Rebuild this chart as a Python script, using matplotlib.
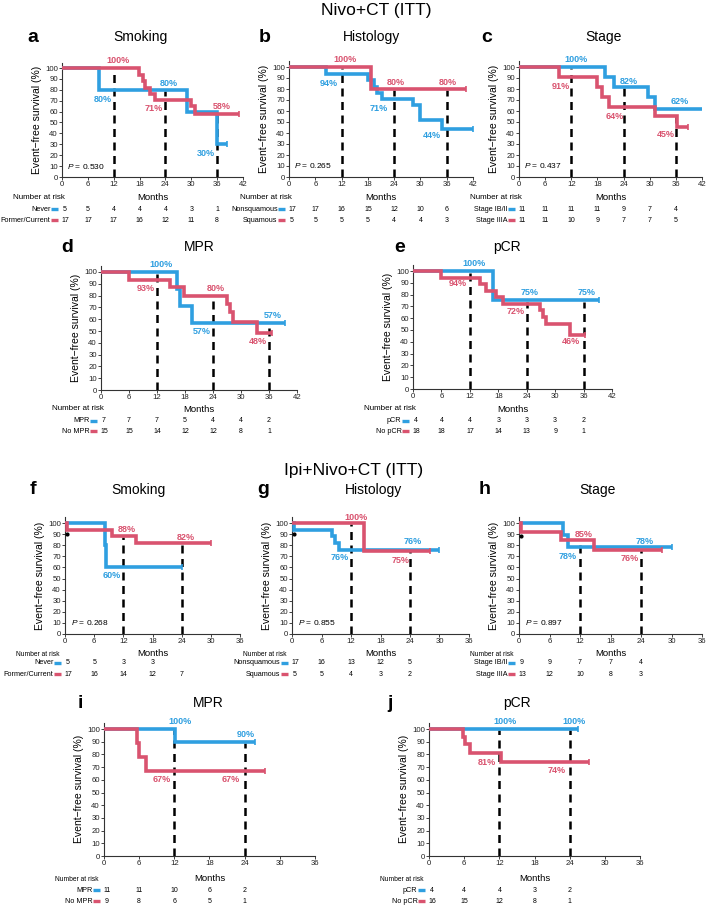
import matplotlib
matplotlib.use("Agg")
import matplotlib.pyplot as plt
from matplotlib.lines import Line2D
import numpy as np

plt.rcParams['font.family'] = ['Liberation Sans', 'DejaVu Sans']
plt.rcParams['mathtext.fontset'] = 'custom'
plt.rcParams['mathtext.it'] = 'Liberation Sans:italic'
plt.rcParams['mathtext.rm'] = 'Liberation Sans'

BLUE = '#2f9fe0'
RED = '#d9536f'

# ---------------- data ----------------
# Panel a: Smoking (Nivo+CT)
a_never_t = [0, 8.5, 29, 36, 38.3]
a_never_s = [100, 80, 60, 30, 30]
a_former_t = [0, 17.8, 18.7, 19.3, 20.4, 21.6, 30, 30.8, 41]
a_former_s = [100, 94, 88, 82, 76, 71, 65, 58, 58]
a_risk_never = [5, 5, 4, 4, 4, 3, 1]
a_risk_former = [17, 17, 17, 16, 12, 11, 8]

# Panel b: Histology
b_nonsq_t = [0, 8.4, 18, 19.4, 20.2, 21.3, 28.3, 30, 35, 42]
b_nonsq_s = [100, 94, 88, 82, 76, 71, 65, 52, 44, 44]
b_sq_t = [0, 18.8, 40.3]
b_sq_s = [100, 80, 80]
b_risk_nonsq = [17, 17, 16, 15, 12, 10, 6]
b_risk_sq = [5, 5, 5, 5, 4, 4, 3]

# Panel c: Stage
c_ib_t = [0, 19.8, 21.9, 29.5, 31.2, 42.5]
c_ib_s = [100, 91, 82, 73, 62, 62]
c_iiia_t = [0, 9.1, 17.8, 19, 20.6, 31.2, 36.2, 38.7]
c_iiia_s = [100, 91, 82, 73, 64, 55, 45, 45]
c_risk_ib = [11, 11, 11, 11, 9, 7, 4]
c_risk_iiia = [11, 11, 10, 9, 7, 7, 5]

# Panel d: MPR
d_mpr_t = [0, 16.3, 17, 19.6, 39.4]
d_mpr_s = [100, 86, 71, 57, 57]
d_nompr_t = [0, 5.9, 14.7, 17.7, 26.9, 27.7, 28.3, 33.4, 36.6]
d_nompr_s = [100, 93, 87, 80, 73, 66, 58, 48, 48]
d_risk_mpr = [7, 7, 7, 5, 4, 4, 2]
d_risk_nompr = [15, 15, 14, 12, 12, 8, 1]

# Panel e: pCR
e_pcr_t = [0, 16.8, 39.2]
e_pcr_s = [100, 75, 75]
e_nopcr_t = [0, 6, 14.1, 15.5, 17.6, 19, 26.7, 27.5, 28.1, 33.2, 36.4]
e_nopcr_s = [100, 94, 89, 83, 78, 72, 67, 61, 55, 46, 46]
e_risk_pcr = [4, 4, 4, 3, 3, 3, 2]
e_risk_nopcr = [18, 18, 17, 14, 13, 9, 1]

# Panel f: Smoking (Ipi+Nivo+CT)
f_never_t = [0, 8.3, 8.5, 24]
f_never_s = [100, 80, 60, 60]
f_former_t = [0, 0.5, 9.7, 14.7, 30]
f_former_s = [100, 94, 88, 82, 82]
f_risk_never = [5, 5, 3, 3, None]
f_risk_former = [17, 16, 14, 12, 7]

# Panel g: Histology
g_nonsq_t = [0, 0.5, 8.2, 8.8, 9.6, 30]
g_nonsq_s = [100, 94, 88, 82, 76, 76]
g_sq_t = [0, 14.7, 28]
g_sq_s = [100, 75, 75]
g_risk_nonsq = [17, 16, 13, 12, 5]
g_risk_sq = [5, 5, 4, 3, 2]

# Panel h: Stage
h_ib_t = [0, 8.6, 9.6, 30]
h_ib_s = [100, 89, 78, 78]
h_iiia_t = [0, 0.4, 8.2, 14.8, 28.2]
h_iiia_s = [100, 92, 85, 76, 76]
h_risk_ib = [9, 9, 7, 7, 4]
h_risk_iiia = [13, 12, 10, 8, 3]

# Panel i: MPR
i_mpr_t = [0, 12.1, 25.7]
i_mpr_s = [100, 90, 90]
i_nompr_t = [0, 5.7, 6, 7.1, 27.5]
i_nompr_s = [100, 89, 78, 67, 67]
i_risk_mpr = [11, 11, 10, 6, 2]
i_risk_nompr = [9, 8, 6, 5, 1]

# Panel j: pCR
j_pcr_t = [0, 25.5]
j_pcr_s = [100, 100]
j_nopcr_t = [0, 5.8, 6.1, 7, 12.2, 27.3]
j_nopcr_s = [100, 94, 88, 81, 74, 74]
j_risk_pcr = [4, 4, 4, 3, 2]
j_risk_nopcr = [16, 15, 12, 8, 1]

# ---------------- figure ----------------
W, H = 707, 905
fig = plt.figure(figsize=(W / 100, H / 100), dpi=100)


def fx(x):
    return x / W


def fy(y):
    return 1 - y / H


def value_at(t, s, x):
    v = s[0]
    for ti, si in zip(t, s):
        if ti <= x:
            v = si
    return v


def panel(box, xmax, curves, dash_times, pct, pval, risk, title, letter,
          title_xy, letter_xy, rows_y, nar_y, months_y, tick_fs=5.6,
          nar_fs=5.8, risk_fs=5.0, dots=None):
    x0, x1, ytop, ybot = box
    unit = (ybot - ytop) / 100.0
    top_px = ytop - 5 * unit
    ax = fig.add_axes([fx(x0), fy(ybot), (x1 - x0) / W, (ybot - top_px) / H])
    ax.set_xlim(0, xmax)
    ax.set_ylim(0, 105)
    for sp in ['top', 'right']:
        ax.spines[sp].set_visible(False)
    for sp in ['left', 'bottom']:
        ax.spines[sp].set_color('#333333')
        ax.spines[sp].set_linewidth(0.8)
    ax.spines['left'].set_bounds(0, 105)
    ax.set_xticks(np.arange(0, xmax + 1, 6))
    ax.set_yticks(np.arange(0, 101, 10))
    ax.tick_params(length=2, width=0.6, pad=1, labelsize=tick_fs, colors='#222222')
    ax.set_ylabel('Event\u2212free survival (%)', fontsize=7.5, labelpad=2)
    ax.patch.set_alpha(0)

    # dashed reference lines
    for dt in dash_times:
        top = max(value_at(t, s, dt) for t, s, c in curves)
        ax.vlines(dt, 0, top - 1, colors='black', linestyles=(0, (3.2, 2.2)),
                  lw=1.8, zorder=1)
    # curves
    for t, s, c in curves:
        ax.step(t, s, where='post', color=c, lw=2.6, zorder=3,
                solid_capstyle='butt', solid_joinstyle='miter')
        ax.plot([t[-1]], [s[-1]], marker='|', color=c, ms=4, mew=1.2, zorder=3)
    if dots:
        for dx, dy in dots:
            ax.plot([dx], [dy], marker='o', color='black', ms=2, zorder=4)
    for txt, c, xx, yy in pct:
        ax.text(xx, yy, txt, color=c, fontsize=6.5, fontweight='bold',
                ha='center', va='center', zorder=5)
    if pval:
        ax.text(1.2, 10, r'$P$ = ' + pval, fontsize=6, ha='left', va='center')

    # title and letter
    fig.text(fx(title_xy[0]), fy(title_xy[1]), title, fontsize=10,
             ha='center', va='center')
    fig.text(fx(letter_xy[0]), fy(letter_xy[1]), letter, fontsize=14,
             fontweight='bold', ha='center', va='center')
    # months
    fig.text(fx((x0 + x1) / 2), fy(months_y), 'Months', fontsize=6.8,
             ha='center', va='center')
    # risk table
    fig.text(fx(x0 - 49), fy(nar_y), 'Number at risk', fontsize=nar_fs,
             ha='left', va='center')
    ticks = np.arange(0, xmax + 1, 6)
    for (lab, c, counts), yy in zip(risk, rows_y):
        fig.text(fx(x0 - 11.5), fy(yy), lab, fontsize=5.2, ha='right', va='center')
        fig.add_artist(Line2D([fx(x0 - 11), fx(x0 - 4)], [fy(yy), fy(yy)],
                              color=c, lw=2.4, solid_capstyle='butt'))
        for tk, n in zip(ticks, counts):
            if n is None:
                continue
            xp = x0 + tk / xmax * (x1 - x0) + (3 if tk == 0 else 0)
            fig.text(fx(xp), fy(yy), str(n), fontsize=risk_fs, ha='center',
                     va='center')
    return ax


# super titles
fig.text(fx(376), fy(11), 'Nivo+CT (ITT)', fontsize=12.5, ha='center', va='center')
fig.text(fx(354), fy(470), 'Ipi+Nivo+CT (ITT)', fontsize=12.5, ha='center', va='center')

# Row 1
panel((62, 243, 68, 177), 42,
      [(a_never_t, a_never_s, BLUE), (a_former_t, a_former_s, RED)],
      [12, 24, 36],
      [('80%', BLUE, 9.4, 71), ('80%', BLUE, 24.8, 86), ('100%', RED, 13, 107),
       ('71%', RED, 21.4, 63), ('58%', RED, 37, 65), ('30%', BLUE, 33.5, 22)],
      '0.530',
      [('Never', BLUE, a_risk_never), ('Former/Current', RED, a_risk_former)],
      'Smoking', 'a', (140, 37), (33, 37), (209, 220), 197, 197)

panel((289, 473, 67, 177), 42,
      [(b_nonsq_t, b_nonsq_s, BLUE), (b_sq_t, b_sq_s, RED)],
      [12, 24, 36],
      [('100%', RED, 12.9, 107), ('94%', BLUE, 9.2, 85), ('80%', RED, 24.4, 86),
       ('71%', BLUE, 20.6, 62), ('80%', RED, 36.2, 86), ('44%', BLUE, 32.6, 38)],
      '0.265',
      [('Nonsquamous', BLUE, b_risk_nonsq), ('Squamous', RED, b_risk_sq)],
      'Histology', 'b', (372, 37), (265, 37), (209, 220), 197, 197)

panel((519, 702, 67, 177), 42,
      [(c_ib_t, c_ib_s, BLUE), (c_iiia_t, c_iiia_s, RED)],
      [12, 24, 36],
      [('100%', BLUE, 13.2, 107), ('91%', RED, 9.5, 82), ('82%', BLUE, 25.2, 87),
       ('64%', RED, 21.9, 55), ('62%', BLUE, 36.8, 69), ('45%', RED, 33.7, 39)],
      '0.437',
      [('Stage IB/II', BLUE, c_risk_ib), ('Stage IIIA', RED, c_risk_iiia)],
      'Stage', 'c', (604, 37), (487, 37), (209, 220), 197, 197)

# Row 2
panel((101, 297, 272, 390), 42,
      [(d_mpr_t, d_mpr_s, BLUE), (d_nompr_t, d_nompr_s, RED)],
      [12, 24, 36],
      [('100%', BLUE, 12.9, 106), ('93%', RED, 9.7, 86), ('80%', RED, 24.5, 86),
       ('57%', BLUE, 21.6, 50), ('57%', BLUE, 36.8, 63.5), ('48%', RED, 33.6, 41.5)],
      None,
      [('MPR', BLUE, d_risk_mpr), ('No MPR', RED, d_risk_nompr)],
      'MPR', 'd', (199, 247), (67, 247), (421, 431), 409, 409)

panel((413, 612, 271, 389), 42,
      [(e_pcr_t, e_pcr_s, BLUE), (e_nopcr_t, e_nopcr_s, RED)],
      [12, 24, 36],
      [('100%', BLUE, 12.9, 106), ('94%', RED, 9.5, 89), ('75%', BLUE, 24.7, 82),
       ('72%', RED, 21.7, 65.5), ('75%', BLUE, 36.7, 82), ('46%', RED, 33.4, 40)],
      None,
      [('pCR', BLUE, e_risk_pcr), ('No pCR', RED, e_risk_nopcr)],
      'pCR', 'e', (507, 247), (400, 247), (421, 431), 409, 409)

# Row 3
panel((65, 240, 523, 634), 36,
      [(f_never_t, f_never_s, BLUE), (f_former_t, f_former_s, RED)],
      [12, 24],
      [('88%', RED, 12.8, 94), ('60%', BLUE, 9.7, 53), ('82%', RED, 24.8, 87)],
      '0.268',
      [('Never', BLUE, f_risk_never), ('Former/Current', RED, f_risk_former)],
      'Smoking', 'f', (138, 490), (33, 490), (663, 674), 654, 653,
      nar_fs=4.8, dots=[(0.4, 90)])

panel((292, 469, 523, 634), 36,
      [(g_nonsq_t, g_nonsq_s, BLUE), (g_sq_t, g_sq_s, RED)],
      [12, 24],
      [('100%', RED, 13, 105), ('76%', BLUE, 9.8, 69), ('76%', BLUE, 24.6, 83),
       ('75%', RED, 22.1, 66.5)],
      '0.855',
      [('Nonsquamous', BLUE, g_risk_nonsq), ('Squamous', RED, g_risk_sq)],
      'Histology', 'g', (373, 490), (263, 490), (663, 674), 654, 653,
      nar_fs=4.8, dots=[(0.5, 90)])

panel((519, 702, 523, 634), 36,
      [(h_ib_t, h_ib_s, BLUE), (h_iiia_t, h_iiia_s, RED)],
      [12, 24],
      [('85%', RED, 12.7, 90), ('78%', BLUE, 9.6, 70), ('78%', BLUE, 24.7, 83),
       ('76%', RED, 21.8, 68)],
      '0.897',
      [('Stage IB/II', BLUE, h_risk_ib), ('Stage IIIA', RED, h_risk_iiia)],
      'Stage', 'h', (598, 490), (485, 490), (663, 674), 654, 653,
      nar_fs=4.8, dots=[(0.4, 88)])

# Row 4
panel((104, 315, 729, 856), 36,
      [(i_mpr_t, i_mpr_s, BLUE), (i_nompr_t, i_nompr_s, RED)],
      [12, 24],
      [('100%', BLUE, 13, 106), ('90%', BLUE, 24.2, 96), ('67%', RED, 9.8, 60),
       ('67%', RED, 21.7, 60)],
      None,
      [('MPR', BLUE, i_risk_mpr), ('No MPR', RED, i_risk_nompr)],
      'MPR', 'i', (208, 703), (80, 703), (890, 901), 879, 878, nar_fs=4.8)

panel((429, 640, 729, 856), 36,
      [(j_pcr_t, j_pcr_s, BLUE), (j_nopcr_t, j_nopcr_s, RED)],
      [12, 24],
      [('100%', BLUE, 12.9, 106), ('100%', BLUE, 24.8, 106), ('81%', RED, 9.8, 74),
       ('74%', RED, 21.8, 67.6)],
      None,
      [('pCR', BLUE, j_risk_pcr), ('No pCR', RED, j_risk_nopcr)],
      'pCR', 'j', (517, 703), (390, 703), (890, 901), 879, 878, nar_fs=4.8)

fig.savefig('out.png', dpi=100)
